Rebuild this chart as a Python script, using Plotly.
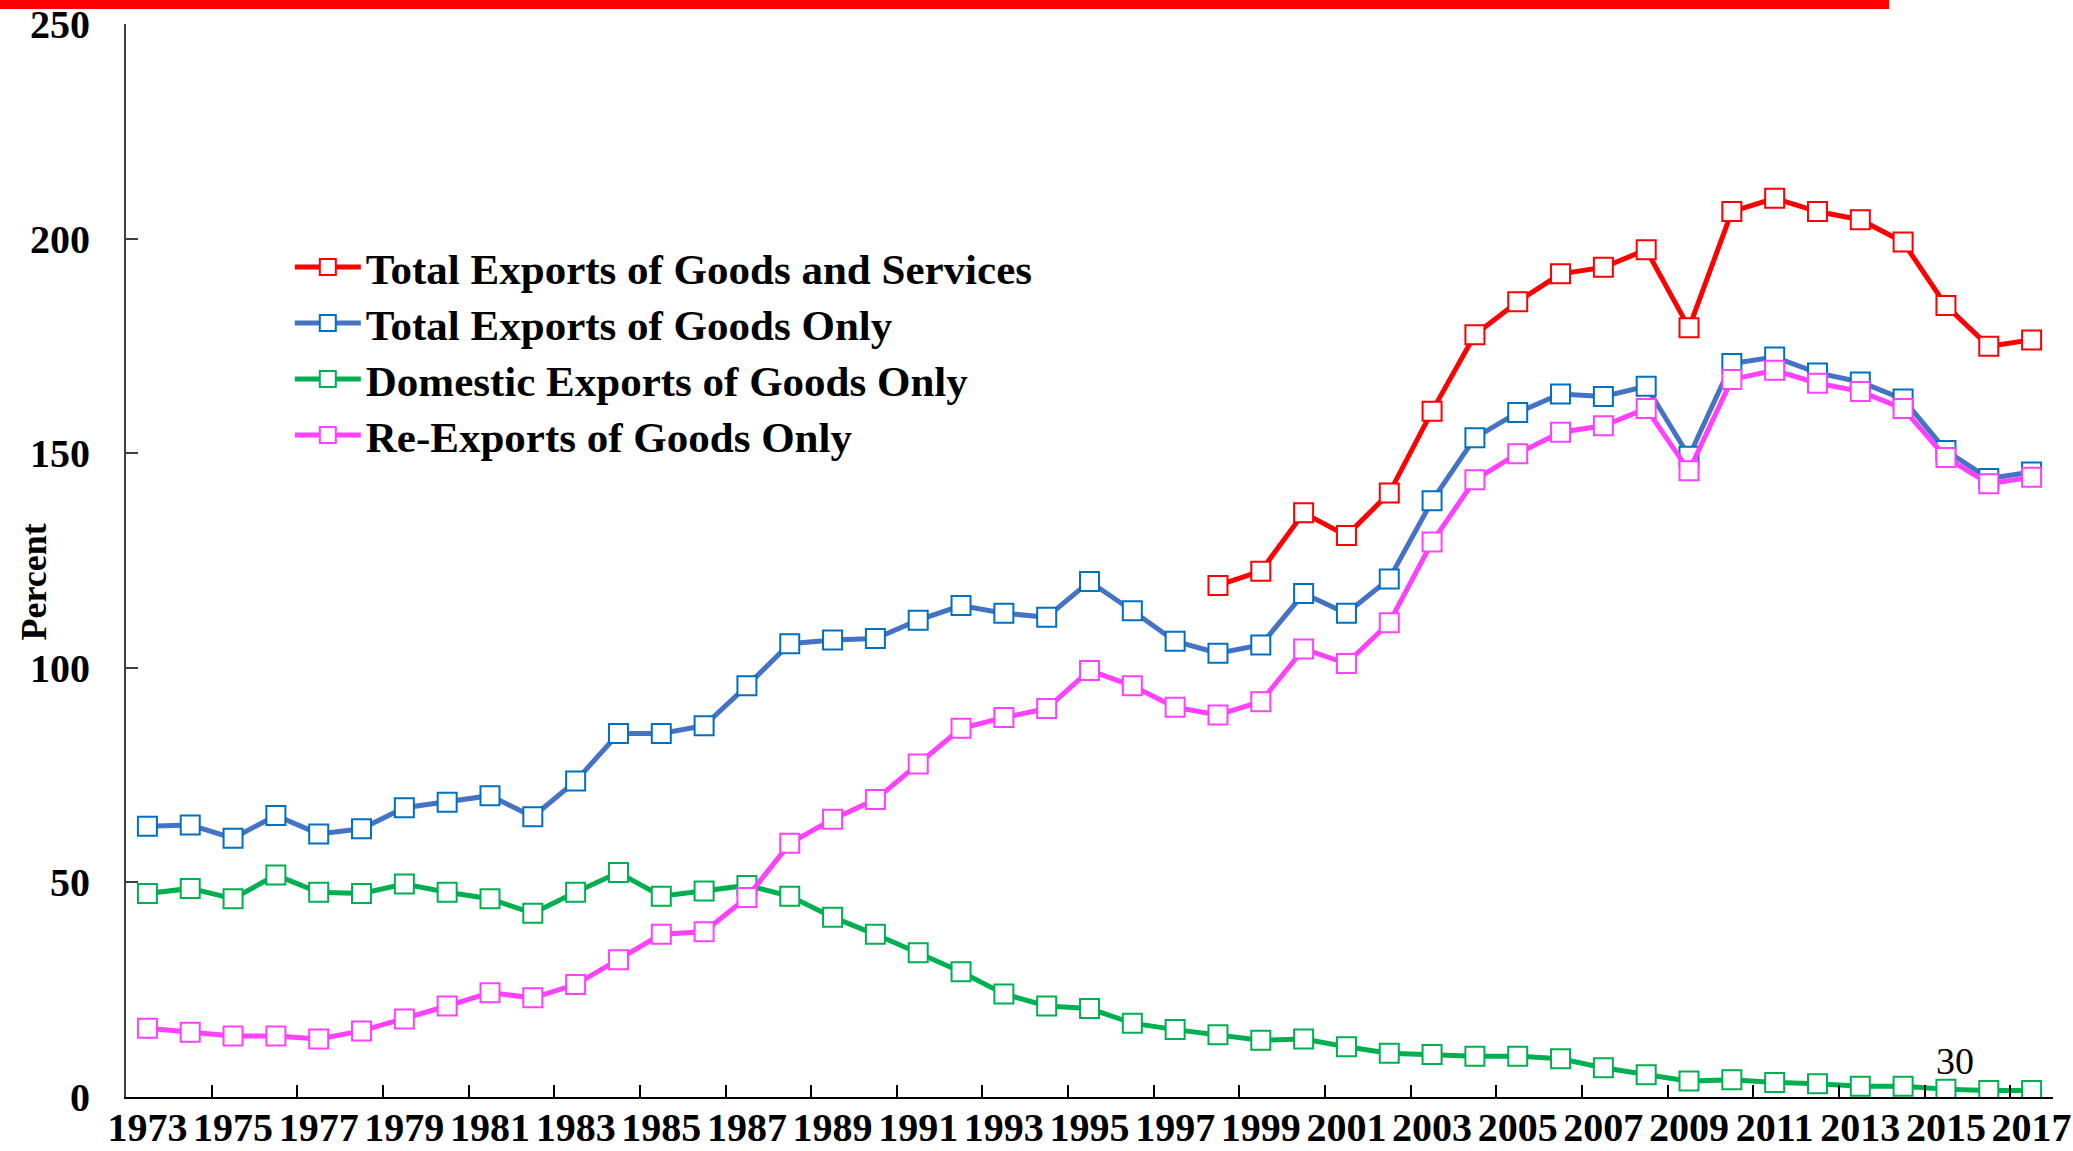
import plotly.graph_objects as go

years = list(range(1973, 2018))

total_goods_services_years = list(range(1998, 2018))
total_goods_services = [119.2, 122.5, 136.1, 130.8, 140.7, 159.8, 177.6, 185.3, 191.8, 193.3,
                        197.4, 179.2, 206.3, 209.4, 206.3, 204.4, 199.2, 184.4, 174.9, 176.4]

total_goods = [63.1, 63.4, 60.3, 65.6, 61.3, 62.5, 67.4, 68.7, 70.2, 65.3,
               73.6, 84.7, 84.7, 86.5, 95.8, 105.6, 106.5, 106.8, 111.1, 114.5,
               112.7, 111.8, 120.1, 113.3, 106.2, 103.4, 105.3, 117.3, 112.7, 120.7,
               138.9, 153.6, 159.5, 163.8, 163.2, 165.6, 149.3, 170.9, 172.4, 168.7,
               166.6, 162.6, 150.6, 144.1, 145.6]

domestic_goods = [47.4, 48.6, 46.2, 51.7, 47.7, 47.4, 49.6, 47.7, 46.2, 42.8,
                  47.7, 52.3, 46.8, 48.0, 49.3, 46.8, 41.9, 37.9, 33.6, 29.2,
                  24.0, 21.2, 20.6, 17.2, 15.7, 14.5, 13.2, 13.5, 11.7, 10.2,
                  9.9, 9.5, 9.5, 8.9, 6.8, 5.2, 3.7, 4.0, 3.4, 3.1,
                  2.5, 2.5, 1.8, 1.5, 1.5]

re_exports = [16.0, 15.1, 14.2, 14.2, 13.5, 15.4, 18.2, 21.2, 24.3, 23.1,
              26.2, 32.0, 37.9, 38.5, 46.5, 59.1, 64.7, 69.3, 77.6, 85.9,
              88.4, 90.5, 99.4, 95.8, 90.8, 89.0, 92.1, 104.4, 101.0, 110.5,
              129.3, 143.8, 149.9, 154.9, 156.4, 160.4, 145.9, 167.2, 169.3, 166.3,
              164.4, 160.4, 149.0, 142.9, 144.4]

tick_years = list(range(1973, 2018, 2))
tick_labels = [str(y) for y in tick_years]
boundary_ticks = [y + 0.5 for y in range(1974, 2017, 2)]
y_ticks = [0, 50, 100, 150, 200, 250]

series_names = ["Total Exports of Goods and Services", "Total Exports of Goods Only",
                "Domestic Exports of Goods Only", "Re-Exports of Goods Only"]

FONT = "Liberation Serif, Times New Roman, serif"
W, H = 2073, 1151
ML, MR, MT, MB = 126, 20, 24, 54
PLOT_H = H - MT - MB

fig = go.Figure()

legend_ids = ["legend", "legend2", "legend3", "legend4"]

def add(x, y, name, line_color, marker_line, legend_id):
    fig.add_trace(go.Scatter(
        x=x, y=y, name=name, mode="lines+markers",
        line=dict(color=line_color, width=5),
        marker=dict(symbol="square", size=19, color="white",
                    line=dict(color=marker_line, width=2)),
        legend=legend_id,
    ))

add(total_goods_services_years, total_goods_services, series_names[0], "#FF0000", "#FF0000", legend_ids[0])
add(years, total_goods, series_names[1], "#4472C4", "#0070C0", legend_ids[1])
add(years, domestic_goods, series_names[2], "#00B050", "#00B050", legend_ids[2])
add(years, re_exports, series_names[3], "#FF40FF", "#FF40FF", legend_ids[3])

# legend rows centred at these page-pixel heights
legend_row_px = [267, 323, 379, 435]
legend_cfg = {}
for lid, py in zip(legend_ids, legend_row_px):
    legend_cfg[lid] = dict(
        x=0.085, y=(H - MB - py) / PLOT_H, xanchor="left", yanchor="middle",
        font=dict(family=FONT, size=43, weight="bold", color="black"),
        itemwidth=66, bgcolor="rgba(0,0,0,0)",
    )

fig.update_layout(
    width=W, height=H,
    margin=dict(l=ML, r=MR, t=MT, b=MB, autoexpand=False),
    plot_bgcolor="white", paper_bgcolor="white",
    font=dict(family=FONT, color="black"),
    showlegend=True,
    xaxis=dict(
        range=[1972.5, 2017.5], automargin=False,
        tickmode="array", tickvals=tick_years, ticktext=tick_labels,
        tickangle=0, ticks="", showgrid=False, zeroline=False,
        showline=True, linecolor="black", linewidth=2,
        tickfont=dict(family=FONT, size=40, weight="bold", color="black"),
        ticklabelstandoff=-6, ticklabeloverflow="allow",
        minor=dict(tickmode="array", tickvals=boundary_ticks, ticks="inside",
                   ticklen=12, tickwidth=1.5, tickcolor="black", showgrid=False),
    ),
    yaxis=dict(
        range=[0, 250], tickmode="array", tickvals=y_ticks, automargin=False,
        ticks="inside", ticklen=12, tickwidth=1.5, tickcolor="#404040",
        showgrid=False, zeroline=False,
        showline=True, linecolor="#404040", linewidth=2,
        tickfont=dict(family=FONT, size=40, weight="bold", color="black"),
        ticklabelstandoff=26, ticklabeloverflow="allow",
    ),
    **legend_cfg,
)

fig.add_annotation(
    text="Percent", textangle=-90, xref="paper", yref="paper",
    x=-0.048, y=0.48, xanchor="center", yanchor="middle", showarrow=False,
    font=dict(family=FONT, size=36, weight="bold", color="black"),
)

fig.add_annotation(
    text="30", xref="x", yref="y", x=2015.2, y=8.3,
    xanchor="center", yanchor="middle", showarrow=False,
    font=dict(family=FONT, size=38, color="black"),
)

# red band along the top edge
fig.add_shape(type="rect", xref="paper", yref="paper",
              x0=-0.066, x1=0.915, y0=1.014, y1=1.023,
              fillcolor="#FF0000", line=dict(width=0), layer="above")

fig.write_html("out.html", config={"displayModeBar": False},
               post_script="document.body.style.margin='0';document.body.style.overflow='hidden';")
